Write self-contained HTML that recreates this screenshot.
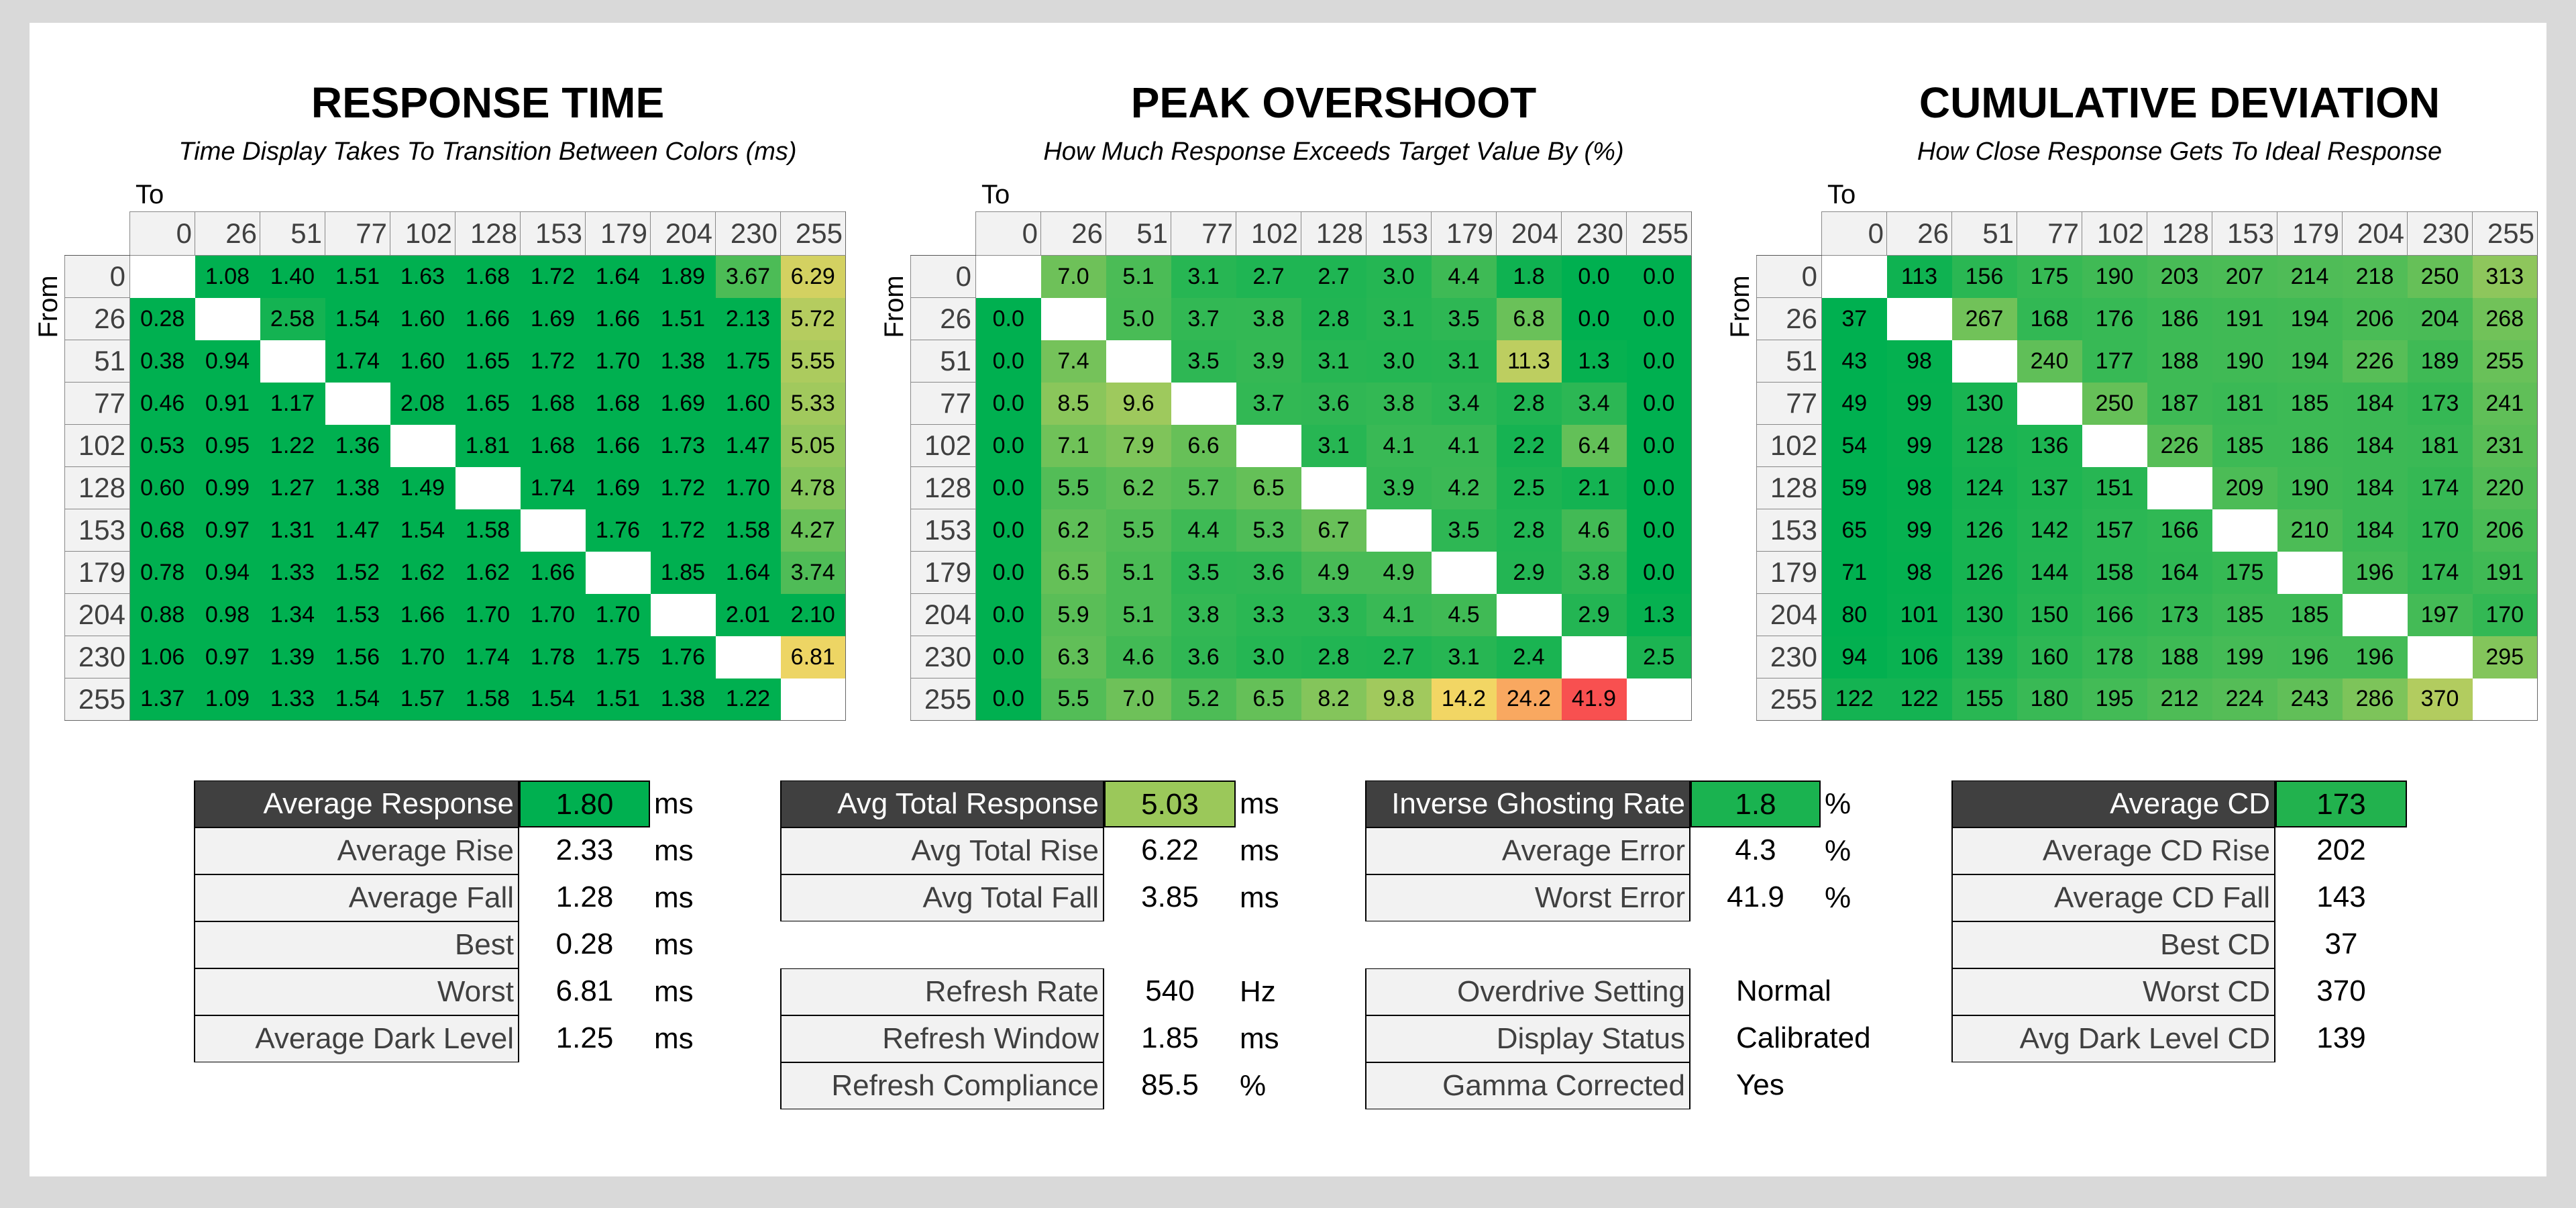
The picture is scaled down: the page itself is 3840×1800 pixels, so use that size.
<!DOCTYPE html>
<html><head><meta charset="utf-8">
<style>
*{margin:0;padding:0;box-sizing:border-box}
body{width:3840px;height:1800px;background:#d9d9d9;position:relative;overflow:hidden;font-family:"Liberation Sans Narrow","Liberation Sans",sans-serif}
#panel{position:absolute;left:44px;top:34px;width:3752px;height:1719px;background:#fff}
.title{position:absolute;width:1068px;text-align:center;font-size:64px;font-weight:bold;color:#000;top:118px;line-height:70px}
.sub{position:absolute;width:1068px;text-align:center;font-size:38px;font-style:italic;color:#000;top:203px;line-height:46px}
.to{position:absolute;font-size:40px;top:266px;line-height:48px}
.from{position:absolute;font-size:40px;transform:rotate(-90deg);transform-origin:center;width:120px;text-align:center;line-height:48px}
table.hm{position:absolute;top:315px;border-collapse:collapse;table-layout:fixed}
table.hm td{width:97px;height:63px;text-align:center;font-size:34px;color:#000;background:#00b050;padding:0}
table.hm tr.h td{height:65px;background:#f2f2f2;border:1px solid #888;color:#404040;font-size:42px;text-align:right;padding-right:4px}
table.hm tr.h td.e{background:#fff;border:none;border-bottom:1px solid #555}
table.hm td.r{background:#f2f2f2;border:1px solid #888;color:#404040;font-size:42px;text-align:right;padding-right:6px}
table.hm td.d{background:#fff}
table.hm tr td:last-child{border-right:1px solid #666}
table.hm tr:last-child td{border-bottom:1px solid #666}
.grp{position:absolute;top:1163px}
.row{display:flex;height:70px;align-items:center}
.lab{height:70px;border:2px solid #000;border-top-width:1px;border-bottom-width:1px;background:#f2f2f2;color:#404040;font-size:44px;text-align:right;padding-right:6px;line-height:68px}
.hd .lab{background:#404040;color:#fff}
.val{height:70px;font-size:44px;text-align:center;line-height:68px;color:#000}
.hd .val{border:2px solid #000}
.unit{font-size:44px;padding-left:6px;line-height:68px}
.sp{height:70px}
</style></head><body>
<div id="panel"></div>

<div class="title" style="left:193px">RESPONSE TIME</div>
<div class="sub" style="left:193px">Time Display Takes To Transition Between Colors (ms)</div>
<div class="to" style="left:202px">To</div>
<div class="from" style="left:12px;top:433px">From</div>

<div class="title" style="left:1454px">PEAK OVERSHOOT</div>
<div class="sub" style="left:1454px">How Much Response Exceeds Target Value By (%)</div>
<div class="to" style="left:1463px">To</div>
<div class="from" style="left:1273px;top:433px">From</div>

<div class="title" style="left:2715px">CUMULATIVE DEVIATION</div>
<div class="sub" style="left:2715px">How Close Response Gets To Ideal Response</div>
<div class="to" style="left:2724px">To</div>
<div class="from" style="left:2534px;top:433px">From</div>

<table class="hm" id="t1" style="left:96px">
<tr class="h"><td class="e"></td><td>0</td><td>26</td><td>51</td><td>77</td><td>102</td><td>128</td><td>153</td><td>179</td><td>204</td><td>230</td><td>255</td></tr>
<tr><td class="r">0</td><td class="d"></td><td>1.08</td><td>1.40</td><td>1.51</td><td>1.63</td><td>1.68</td><td>1.72</td><td>1.64</td><td>1.89</td><td>3.67</td><td>6.29</td></tr>
<tr><td class="r">26</td><td>0.28</td><td class="d"></td><td>2.58</td><td>1.54</td><td>1.60</td><td>1.66</td><td>1.69</td><td>1.66</td><td>1.51</td><td>2.13</td><td>5.72</td></tr>
<tr><td class="r">51</td><td>0.38</td><td>0.94</td><td class="d"></td><td>1.74</td><td>1.60</td><td>1.65</td><td>1.72</td><td>1.70</td><td>1.38</td><td>1.75</td><td>5.55</td></tr>
<tr><td class="r">77</td><td>0.46</td><td>0.91</td><td>1.17</td><td class="d"></td><td>2.08</td><td>1.65</td><td>1.68</td><td>1.68</td><td>1.69</td><td>1.60</td><td>5.33</td></tr>
<tr><td class="r">102</td><td>0.53</td><td>0.95</td><td>1.22</td><td>1.36</td><td class="d"></td><td>1.81</td><td>1.68</td><td>1.66</td><td>1.73</td><td>1.47</td><td>5.05</td></tr>
<tr><td class="r">128</td><td>0.60</td><td>0.99</td><td>1.27</td><td>1.38</td><td>1.49</td><td class="d"></td><td>1.74</td><td>1.69</td><td>1.72</td><td>1.70</td><td>4.78</td></tr>
<tr><td class="r">153</td><td>0.68</td><td>0.97</td><td>1.31</td><td>1.47</td><td>1.54</td><td>1.58</td><td class="d"></td><td>1.76</td><td>1.72</td><td>1.58</td><td>4.27</td></tr>
<tr><td class="r">179</td><td>0.78</td><td>0.94</td><td>1.33</td><td>1.52</td><td>1.62</td><td>1.62</td><td>1.66</td><td class="d"></td><td>1.85</td><td>1.64</td><td>3.74</td></tr>
<tr><td class="r">204</td><td>0.88</td><td>0.98</td><td>1.34</td><td>1.53</td><td>1.66</td><td>1.70</td><td>1.70</td><td>1.70</td><td class="d"></td><td>2.01</td><td>2.10</td></tr>
<tr><td class="r">230</td><td>1.06</td><td>0.97</td><td>1.39</td><td>1.56</td><td>1.70</td><td>1.74</td><td>1.78</td><td>1.75</td><td>1.76</td><td class="d"></td><td>6.81</td></tr>
<tr><td class="r">255</td><td>1.37</td><td>1.09</td><td>1.33</td><td>1.54</td><td>1.57</td><td>1.58</td><td>1.54</td><td>1.51</td><td>1.38</td><td>1.22</td><td class="d"></td></tr>
</table>

<table class="hm" id="t2" style="left:1357px">
<tr class="h"><td class="e"></td><td>0</td><td>26</td><td>51</td><td>77</td><td>102</td><td>128</td><td>153</td><td>179</td><td>204</td><td>230</td><td>255</td></tr>
<tr><td class="r">0</td><td class="d"></td><td>7.0</td><td>5.1</td><td>3.1</td><td>2.7</td><td>2.7</td><td>3.0</td><td>4.4</td><td>1.8</td><td>0.0</td><td>0.0</td></tr>
<tr><td class="r">26</td><td>0.0</td><td class="d"></td><td>5.0</td><td>3.7</td><td>3.8</td><td>2.8</td><td>3.1</td><td>3.5</td><td>6.8</td><td>0.0</td><td>0.0</td></tr>
<tr><td class="r">51</td><td>0.0</td><td>7.4</td><td class="d"></td><td>3.5</td><td>3.9</td><td>3.1</td><td>3.0</td><td>3.1</td><td>11.3</td><td>1.3</td><td>0.0</td></tr>
<tr><td class="r">77</td><td>0.0</td><td>8.5</td><td>9.6</td><td class="d"></td><td>3.7</td><td>3.6</td><td>3.8</td><td>3.4</td><td>2.8</td><td>3.4</td><td>0.0</td></tr>
<tr><td class="r">102</td><td>0.0</td><td>7.1</td><td>7.9</td><td>6.6</td><td class="d"></td><td>3.1</td><td>4.1</td><td>4.1</td><td>2.2</td><td>6.4</td><td>0.0</td></tr>
<tr><td class="r">128</td><td>0.0</td><td>5.5</td><td>6.2</td><td>5.7</td><td>6.5</td><td class="d"></td><td>3.9</td><td>4.2</td><td>2.5</td><td>2.1</td><td>0.0</td></tr>
<tr><td class="r">153</td><td>0.0</td><td>6.2</td><td>5.5</td><td>4.4</td><td>5.3</td><td>6.7</td><td class="d"></td><td>3.5</td><td>2.8</td><td>4.6</td><td>0.0</td></tr>
<tr><td class="r">179</td><td>0.0</td><td>6.5</td><td>5.1</td><td>3.5</td><td>3.6</td><td>4.9</td><td>4.9</td><td class="d"></td><td>2.9</td><td>3.8</td><td>0.0</td></tr>
<tr><td class="r">204</td><td>0.0</td><td>5.9</td><td>5.1</td><td>3.8</td><td>3.3</td><td>3.3</td><td>4.1</td><td>4.5</td><td class="d"></td><td>2.9</td><td>1.3</td></tr>
<tr><td class="r">230</td><td>0.0</td><td>6.3</td><td>4.6</td><td>3.6</td><td>3.0</td><td>2.8</td><td>2.7</td><td>3.1</td><td>2.4</td><td class="d"></td><td>2.5</td></tr>
<tr><td class="r">255</td><td>0.0</td><td>5.5</td><td>7.0</td><td>5.2</td><td>6.5</td><td>8.2</td><td>9.8</td><td>14.2</td><td>24.2</td><td>41.9</td><td class="d"></td></tr>
</table>

<table class="hm" id="t3" style="left:2618px">
<tr class="h"><td class="e"></td><td>0</td><td>26</td><td>51</td><td>77</td><td>102</td><td>128</td><td>153</td><td>179</td><td>204</td><td>230</td><td>255</td></tr>
<tr><td class="r">0</td><td class="d"></td><td>113</td><td>156</td><td>175</td><td>190</td><td>203</td><td>207</td><td>214</td><td>218</td><td>250</td><td>313</td></tr>
<tr><td class="r">26</td><td>37</td><td class="d"></td><td>267</td><td>168</td><td>176</td><td>186</td><td>191</td><td>194</td><td>206</td><td>204</td><td>268</td></tr>
<tr><td class="r">51</td><td>43</td><td>98</td><td class="d"></td><td>240</td><td>177</td><td>188</td><td>190</td><td>194</td><td>226</td><td>189</td><td>255</td></tr>
<tr><td class="r">77</td><td>49</td><td>99</td><td>130</td><td class="d"></td><td>250</td><td>187</td><td>181</td><td>185</td><td>184</td><td>173</td><td>241</td></tr>
<tr><td class="r">102</td><td>54</td><td>99</td><td>128</td><td>136</td><td class="d"></td><td>226</td><td>185</td><td>186</td><td>184</td><td>181</td><td>231</td></tr>
<tr><td class="r">128</td><td>59</td><td>98</td><td>124</td><td>137</td><td>151</td><td class="d"></td><td>209</td><td>190</td><td>184</td><td>174</td><td>220</td></tr>
<tr><td class="r">153</td><td>65</td><td>99</td><td>126</td><td>142</td><td>157</td><td>166</td><td class="d"></td><td>210</td><td>184</td><td>170</td><td>206</td></tr>
<tr><td class="r">179</td><td>71</td><td>98</td><td>126</td><td>144</td><td>158</td><td>164</td><td>175</td><td class="d"></td><td>196</td><td>174</td><td>191</td></tr>
<tr><td class="r">204</td><td>80</td><td>101</td><td>130</td><td>150</td><td>166</td><td>173</td><td>185</td><td>185</td><td class="d"></td><td>197</td><td>170</td></tr>
<tr><td class="r">230</td><td>94</td><td>106</td><td>139</td><td>160</td><td>178</td><td>188</td><td>199</td><td>196</td><td>196</td><td class="d"></td><td>295</td></tr>
<tr><td class="r">255</td><td>122</td><td>122</td><td>155</td><td>180</td><td>195</td><td>212</td><td>224</td><td>243</td><td>286</td><td>370</td><td class="d"></td></tr>
</table>

<div class="grp" style="left:289px">
<div class="row hd"><div class="lab" style="width:485px">Average Response</div><div class="val" style="width:195px;background:#00b050">1.80</div><div class="unit">ms</div></div>
<div class="row"><div class="lab" style="width:485px">Average Rise</div><div class="val" style="width:195px">2.33</div><div class="unit">ms</div></div>
<div class="row"><div class="lab" style="width:485px">Average Fall</div><div class="val" style="width:195px">1.28</div><div class="unit">ms</div></div>
<div class="row"><div class="lab" style="width:485px">Best</div><div class="val" style="width:195px">0.28</div><div class="unit">ms</div></div>
<div class="row"><div class="lab" style="width:485px">Worst</div><div class="val" style="width:195px">6.81</div><div class="unit">ms</div></div>
<div class="row"><div class="lab" style="width:485px">Average Dark Level</div><div class="val" style="width:195px">1.25</div><div class="unit">ms</div></div>
</div>

<div class="grp" style="left:1163px">
<div class="row hd"><div class="lab" style="width:483px">Avg Total Response</div><div class="val" style="width:196px;background:#9bc85a">5.03</div><div class="unit">ms</div></div>
<div class="row"><div class="lab" style="width:483px">Avg Total Rise</div><div class="val" style="width:196px">6.22</div><div class="unit">ms</div></div>
<div class="row"><div class="lab" style="width:483px">Avg Total Fall</div><div class="val" style="width:196px">3.85</div><div class="unit">ms</div></div>
<div class="sp"></div>
<div class="row"><div class="lab" style="width:483px">Refresh Rate</div><div class="val" style="width:196px">540</div><div class="unit">Hz</div></div>
<div class="row"><div class="lab" style="width:483px">Refresh Window</div><div class="val" style="width:196px">1.85</div><div class="unit">ms</div></div>
<div class="row"><div class="lab" style="width:483px">Refresh Compliance</div><div class="val" style="width:196px">85.5</div><div class="unit">%</div></div>
</div>

<div class="grp" style="left:2035px">
<div class="row hd"><div class="lab" style="width:485px">Inverse Ghosting Rate</div><div class="val" style="width:194px;background:#1ab350">1.8</div><div class="unit">%</div></div>
<div class="row"><div class="lab" style="width:485px">Average Error</div><div class="val" style="width:194px">4.3</div><div class="unit">%</div></div>
<div class="row"><div class="lab" style="width:485px">Worst Error</div><div class="val" style="width:194px">41.9</div><div class="unit">%</div></div>
<div class="sp"></div>
<div class="row"><div class="lab" style="width:485px">Overdrive Setting</div><div class="val" style="width:300px;text-align:left;padding-left:68px">Normal</div></div>
<div class="row"><div class="lab" style="width:485px">Display Status</div><div class="val" style="width:300px;text-align:left;padding-left:68px">Calibrated</div></div>
<div class="row"><div class="lab" style="width:485px">Gamma Corrected</div><div class="val" style="width:300px;text-align:left;padding-left:68px">Yes</div></div>
</div>

<div class="grp" style="left:2909px">
<div class="row hd"><div class="lab" style="width:483px">Average CD</div><div class="val" style="width:196px;background:#22b24e">173</div></div>
<div class="row"><div class="lab" style="width:483px">Average CD Rise</div><div class="val" style="width:196px">202</div></div>
<div class="row"><div class="lab" style="width:483px">Average CD Fall</div><div class="val" style="width:196px">143</div></div>
<div class="row"><div class="lab" style="width:483px">Best CD</div><div class="val" style="width:196px">37</div></div>
<div class="row"><div class="lab" style="width:483px">Worst CD</div><div class="val" style="width:196px">370</div></div>
<div class="row"><div class="lab" style="width:483px">Avg Dark Level CD</div><div class="val" style="width:196px">139</div></div>
</div>

<script>
(function(){
var G=[0,176,80],Y=[242,214,100],O=[249,168,96],R=[248,80,80];
function mix(a,b,t){t=Math.max(0,Math.min(1,t));return 'rgb('+a.map(function(v,i){return Math.round(v+(b[i]-v)*t)}).join(',')+')';}
var fns={
t1:function(v){return mix(G,Y,(v-2.2)/(6.9-2.2));},
t2:function(v){if(v<=14.2)return mix(G,Y,(v-1)/(14.2-1));if(v<=24.2)return mix(Y,O,(v-14.2)/10);return mix(O,R,(v-24.2)/17.7);},
t3:function(v){return mix(G,Y,(v-90)/(470-90));}
};
for(var id in fns){
 var cells=document.querySelectorAll('#'+id+' tr:not(.h) td:not(.r):not(.d)');
 for(var i=0;i<cells.length;i++){var v=parseFloat(cells[i].textContent);if(!isNaN(v))cells[i].style.background=fns[id](v);}
}
})();
</script>
</body></html>
